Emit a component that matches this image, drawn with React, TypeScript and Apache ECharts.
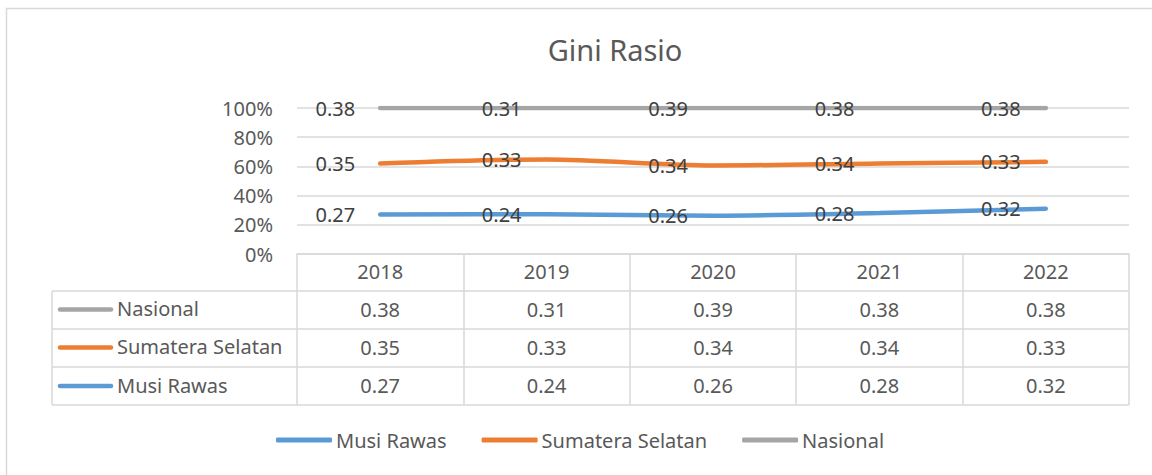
import React, { useEffect, useRef } from "react";
import * as echarts from "echarts";

const years = ["2018", "2019", "2020", "2021", "2022"];
const musiRawas = [0.27, 0.24, 0.26, 0.28, 0.32];
const sumateraSelatan = [0.35, 0.33, 0.34, 0.34, 0.33];
const nasional = [0.38, 0.31, 0.39, 0.38, 0.38];
const yTicks = [0, 0.2, 0.4, 0.6, 0.8, 1];

const seriesNames = ["Musi Rawas", "Sumatera Selatan", "Nasional"];
const seriesColors = ["#5b9bd5", "#ed7d31", "#a5a5a5"];
const seriesData = [musiRawas, sumateraSelatan, nasional];

const FONT = "Noto Sans";

export default function App() {
  const ref = useRef<HTMLDivElement>(null);
  useEffect(() => {
    if (!ref.current) return;
    const chart = echarts.init(ref.current, null, { renderer: "svg" });
    const totals = years.map((_, j) => seriesData.reduce((s, arr) => s + arr[j], 0));

    const tableRows = [2, 1, 0]; // Nasional, Sumatera Selatan, Musi Rawas
    const rowY = [309.5, 347.5, 386];
    const graphics: any[] = [
      {
        type: "rect",
        shape: { x: 6.5, y: 8.5, width: 1300, height: 600 },
        style: { fill: "none", stroke: "#d9d9d9", lineWidth: 1.5 },
        silent: true,
      },
    ];
    [291, 329, 367, 405].forEach((y) => {
      graphics.push({
        type: "line",
        shape: { x1: 52, y1: y, x2: 1129, y2: y },
        style: { stroke: "#d9d9d9", lineWidth: 1.5 },
        silent: true,
      });
    });
    graphics.push({
      type: "line",
      shape: { x1: 52, y1: 291, x2: 52, y2: 405 },
      style: { stroke: "#d9d9d9", lineWidth: 1.5 },
      silent: true,
    });
    tableRows.forEach((si, r) => {
      graphics.push({
        type: "line",
        shape: { x1: 60, y1: rowY[r], x2: 111, y2: rowY[r] },
        style: { stroke: seriesColors[si], lineWidth: 4.5, lineCap: "round" },
        silent: true,
      });
      graphics.push({
        type: "text",
        x: 117,
        y: rowY[r] - 1,
        style: {
          text: seriesNames[si],
          font: `20px '${FONT}'`,
          fill: "#595959",
          verticalAlign: "middle",
          textAlign: "left",
        },
        silent: true,
      });
    });

    chart.setOption({
      animation: false,
      title: {
        text: "Gini Rasio",
        left: 610,
        top: 30,
        textAlign: "center",
        textStyle: { fontFamily: FONT, fontSize: 29, fontWeight: "normal", color: "#595959" },
      },
      grid: { left: 297, right: 23, top: 108, height: 146, containLabel: false },
      legend: {
        data: seriesNames,
        left: 271,
        top: 425,
        icon: "roundRect",
        itemWidth: 56,
        itemHeight: 5,
        itemGap: 35,
        textStyle: { fontFamily: FONT, fontSize: 20, color: "#595959", padding: [0, 0, 0, -1] },
      },
      xAxis: {
        type: "category",
        data: years,
        boundaryGap: true,
        axisLine: { show: true, lineStyle: { color: "#d9d9d9", width: 1.5 } },
        axisTick: { show: true, length: 151, interval: 0, lineStyle: { color: "#d9d9d9", width: 1.5 } },
        splitLine: { show: false },
        axisLabel: {
          interval: 0,
          margin: -2,
          color: "#595959",
          fontFamily: FONT,
          fontSize: 20,
          lineHeight: 38,
          formatter: (v: string, idx: number) =>
            [v, ...tableRows.map((si) => seriesData[si][idx].toFixed(2))].join("\n"),
        },
      },
      yAxis: {
        type: "value",
        min: 0,
        max: 1,
        interval: 0.2,
        axisLine: { show: false },
        axisTick: { show: false },
        splitLine: { lineStyle: { color: "#d9d9d9", width: 1.5 } },
        axisLabel: {
          margin: 24,
          color: "#595959",
          fontFamily: FONT,
          fontSize: 20,
          formatter: (v: number) => (yTicks.includes(Math.round(v * 10) / 10) ? `${Math.round(v * 100)}%` : ""),
        },
      },
      series: seriesNames.map((name, si) => ({
        name,
        type: "line",
        stack: "pct",
        smooth: 0.3,
        data: seriesData[si].map((v, j) => v / totals[j]),
        symbol: "circle",
        symbolSize: 0.1,
        showSymbol: true,
        itemStyle: { color: seriesColors[si] },
        lineStyle: { color: seriesColors[si], width: 4.5, cap: "round" },
        label: {
          show: true,
          position: "left",
          distance: 25,
          color: "#404040",
          fontFamily: FONT,
          fontSize: 20,
          formatter: (p: any) => seriesData[si][p.dataIndex].toFixed(2),
        },
        emphasis: { disabled: true },
      })),
      graphic: graphics,
    });
    return () => chart.dispose();
  }, []);
  return (
    <div
      ref={ref}
      style={{ position: "absolute", left: 0, top: 0, width: 1152, height: 475, background: "#fff" }}
    />
  );
}
